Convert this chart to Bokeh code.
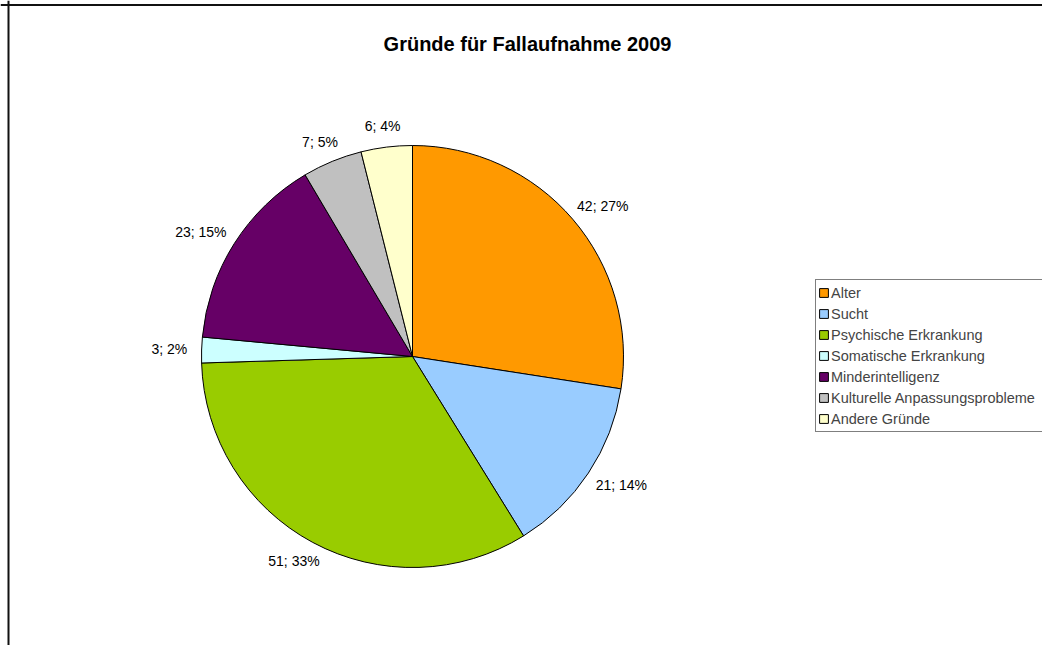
import math
from bokeh.plotting import figure
from bokeh.models import Range1d, Legend, LegendItem, Span, ColumnDataSource
from bokeh.embed import file_html
from bokeh.resources import INLINE
from bokeh.core.properties import value

# ---- data ----
categories = ["Alter", "Sucht", "Psychische Erkrankung", "Somatische Erkrankung",
              "Minderintelligenz", "Kulturelle Anpassungsprobleme", "Andere Gründe"]
counts = [42, 21, 51, 3, 23, 7, 6]
colors = ["#FF9900", "#99CCFF", "#99CC00", "#CCFFFF", "#660066", "#C0C0C0", "#FFFFCC"]
title_text = "Gründe für Fallaufnahme 2009"

# ---- layout (pixel-based frame) ----
W, H = 1042, 645
FONT = "Liberation Sans"
cx, cy, R = 412, 289, 211

p = figure(width=W, height=H, x_range=Range1d(0, W), y_range=Range1d(0, H),
           output_backend="svg", toolbar_location=None,
           x_axis_location=None, y_axis_location=None,
           min_border=0, min_border_left=0, min_border_right=0,
           min_border_top=0, min_border_bottom=0)
p.grid.visible = False
p.outline_line_color = None
p.background_fill_color = "white"
p.border_fill_color = "white"

total = sum(counts)
cum = 0
renderers = []
lx, ly, lt = [], [], []
for i, (cat, c, col) in enumerate(zip(categories, counts, colors)):
    start_frac = cum / total
    end_frac = (cum + c) / total
    cum += c
    sa = math.pi / 2 - 2 * math.pi * end_frac
    ea = math.pi / 2 - 2 * math.pi * start_frac
    r = p.wedge(x=cx, y=cy, radius=R, start_angle=sa, end_angle=ea,
                fill_color=col, line_color="black", line_width=1)
    renderers.append(r)
    # label (outside end, box touching an offset circle)
    mid = 2 * math.pi * (start_frac + end_frac) / 2  # clockwise from top
    s, co = math.sin(mid), math.cos(mid)
    txt = f"{c}; {round(100 * c / total)}%"
    w = 7.3 * len(txt)
    h = 14
    ar = R + 14
    ax = cx + s * ar
    ay = cy + co * ar
    lx.append(ax + s * w / 2)
    ly.append(ay + co * h / 2)
    lt.append(txt)

src = ColumnDataSource(dict(x=lx, y=ly, t=lt))
p.text(x="x", y="y", text="t", source=src, text_font=value(FONT),
       text_font_size="14px", text_align="center", text_baseline="middle",
       text_color="black")

# title
p.text(x=[527], y=[602], text=[title_text], text_font=value(FONT),
       text_font_size="20px", text_font_style="bold", text_align="center",
       text_baseline="alphabetic", text_color="black")

# legend
items = [LegendItem(label=cat, renderers=[r]) for cat, r in zip(categories, renderers)]
legend = Legend(items=items, location=(815, 213), orientation="vertical",
                padding=2, spacing=0, margin=0, label_height=21,
                glyph_height=11, glyph_width=11, label_standoff=2,
                label_width=209, label_text_font=FONT, label_text_font_size="14.5px",
                border_line_color="black", border_line_width=1,
                background_fill_color="white", background_fill_alpha=1.0)
p.add_layout(legend)

# chart area border (left and top visible in reference)
p.add_layout(Span(location=8, dimension="height", line_color="#111111", line_width=2))
p.add_layout(Span(location=H - 4.5, dimension="width", line_color="#111111", line_width=2))

open("out.html", "w").write(file_html(p, INLINE))
